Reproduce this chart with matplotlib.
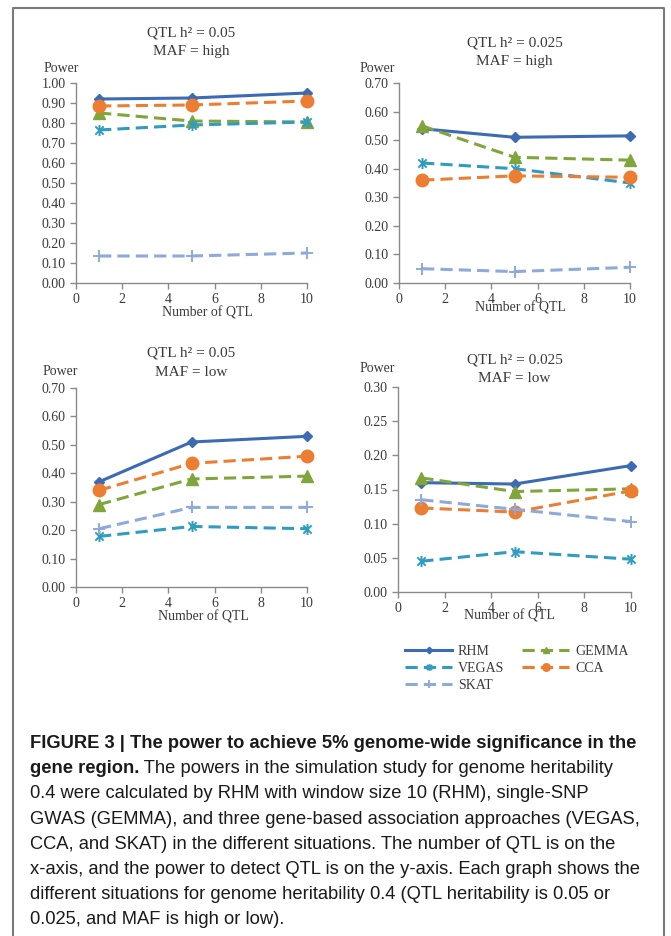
import matplotlib.pyplot as plt
from matplotlib.path import Path
from matplotlib.lines import Line2D

# number of QTL on the x-axis
n_qtl = [1, 5, 10]
methods = ['RHM', 'GEMMA', 'VEGAS', 'CCA', 'SKAT']

# power per method (rows in the order of `methods`)
power_05_high = [
    [0.92, 0.925, 0.95],
    [0.85, 0.81, 0.805],
    [0.765, 0.79, 0.805],
    [0.885, 0.89, 0.91],
    [0.135, 0.135, 0.15],
]
power_025_high = [
    [0.54, 0.51, 0.515],
    [0.55, 0.44, 0.43],
    [0.42, 0.40, 0.35],
    [0.36, 0.375, 0.37],
    [0.05, 0.04, 0.055],
]
power_05_low = [
    [0.37, 0.51, 0.53],
    [0.29, 0.38, 0.39],
    [0.178, 0.213, 0.205],
    [0.34, 0.435, 0.46],
    [0.205, 0.28, 0.28],
]
power_025_low = [
    [0.16, 0.158, 0.185],
    [0.167, 0.147, 0.151],
    [0.045, 0.059, 0.048],
    [0.123, 0.117, 0.148],
    [0.135, 0.121, 0.103],
]

titles = ['QTL h\u00b2 = 0.05\nMAF = high', 'QTL h\u00b2 = 0.025\nMAF = high',
          'QTL h\u00b2 = 0.05\nMAF = low', 'QTL h\u00b2 = 0.025\nMAF = low']
y_max = [1.0, 0.7, 0.7, 0.3]
y_step = [0.1, 0.1, 0.1, 0.05]

caption_bold = 'FIGURE 3 | The power to achieve 5% genome-wide significance in the'
caption_bold2 = 'gene region.'
caption_lines = [
    ' The powers in the simulation study for genome heritability',
    '0.4 were calculated by RHM with window size 10 (RHM), single-SNP',
    'GWAS (GEMMA), and three gene-based association approaches (VEGAS,',
    'CCA, and SKAT) in the different situations. The number of QTL is on the',
    'x-axis, and the power to detect QTL is on the y-axis. Each graph shows the',
    'different situations for genome heritability 0.4 (QTL heritability is 0.05 or',
    '0.025, and MAF is high or low).',
]

W, H = 671, 936
plt.rcParams['font.family'] = ['Liberation Serif', 'DejaVu Serif']
txt_col = '#3a3a3a'
axis_col = '#8a8a8a'

asterisk = Path([(0, -1), (0, 1), (-0.75, -0.75), (0.75, 0.75), (-0.75, 0.75), (0.75, -0.75)],
                [Path.MOVETO, Path.LINETO, Path.MOVETO, Path.LINETO, Path.MOVETO, Path.LINETO])

styles = {
    'RHM':   dict(color='#3c6bb3', ls='-', marker='D', ms=5.5),
    'GEMMA': dict(color='#80a53b', ls=(0, (4, 2)), marker='^', ms=8),
    'VEGAS': dict(color='#2f9cc0', ls=(0, (4, 2)), marker=asterisk, ms=8, mfc='none', mew=1.4),
    'CCA':   dict(color='#ec7d31', ls=(0, (4, 2)), marker='o', ms=9),
    'SKAT':  dict(color='#8ea9da', ls=(0, (4, 2)), marker='+', ms=9, mew=1.4),
}

fig = plt.figure(figsize=(W / 100, H / 100), dpi=100)


def px_box(l, r, top, bottom):
    return [l / W, 1 - bottom / H, (r - l) / W, (bottom - top) / H]


# layout in pixels: axes box, title centre y, "Power" label xy, x-label coords
layout = [
    (px_box(76, 307, 83, 283), 42.5, (61, 68), (0.567, -0.15)),
    (px_box(399, 630, 83, 283), 52.5, (377, 68), (0.524, -0.125)),
    (px_box(76, 307, 388, 587), 362.5, (60, 372), (0.55, -0.151)),
    (px_box(398, 631, 387, 592), 369.5, (377, 369), (0.48, -0.117)),
]
all_power = [power_05_high, power_025_high, power_05_low, power_025_low]

axes = []
for k in range(4):
    box, title_y, power_xy, xlab = layout[k]
    ax = fig.add_axes(box)
    axes.append(ax)
    for i, m in enumerate(methods):
        st = dict(styles[m])
        col = st.pop('color')
        st.setdefault('mfc', col)
        ax.plot(n_qtl, all_power[k][i], color=col, lw=2.2, mec=col, label=m,
                clip_on=False, **st)

    ax.set_xlim(0, 10)
    ax.set_ylim(0, y_max[k])
    ax.set_xticks(range(0, 11, 2))
    n_ticks = int(round(y_max[k] / y_step[k])) + 1
    ax.set_yticks([j * y_step[k] for j in range(n_ticks)])
    ax.set_yticklabels(['%.2f' % (j * y_step[k]) for j in range(n_ticks)])
    for s in ['top', 'right']:
        ax.spines[s].set_visible(False)
    for s in ['left', 'bottom']:
        ax.spines[s].set_color(axis_col)
        ax.spines[s].set_linewidth(1.0)
    ax.tick_params(colors=axis_col, labelcolor=txt_col, labelsize=10, length=4, width=1.0)

    ax.set_xlabel('Number of QTL', fontsize=10, color=txt_col)
    ax.xaxis.set_label_coords(xlab[0], xlab[1])
    ax.xaxis.label.set_va('center')

    cx = (box[0] + box[2] / 2)
    fig.text(cx, 1 - title_y / H, titles[k], ha='center', va='center',
             fontsize=11, color=txt_col, linespacing=1.6)
    fig.text(power_xy[0] / W, 1 - power_xy[1] / H, 'Power', ha='center', va='center',
             fontsize=10, color=txt_col)

# legend below the lower right panel, filled row by row
handles, labels = axes[3].get_legend_handles_labels()
order = [0, 2, 4, 1, 3]
fig.legend([handles[i] for i in order], [labels[i] for i in order], ncol=2,
           loc='upper left', bbox_to_anchor=(405 / W, 1 - 645 / H), frameon=False,
           fontsize=10, handlelength=3.4, handletextpad=0.4, columnspacing=1.3,
           labelspacing=0.3, borderpad=0, borderaxespad=0, markerscale=0.6,
           labelcolor=txt_col)

# caption
cap_font = ['Liberation Sans', 'DejaVu Sans']
cap_size = 13.2
x0 = 30 / W
base = 748
step = 25.2
fig.text(x0, 1 - base / H, caption_bold, fontsize=cap_size, fontweight='bold',
         family=cap_font, color='#1a1a1a', va='baseline')
b2 = fig.text(x0, 1 - (base + step) / H, caption_bold2, fontsize=cap_size, fontweight='bold',
              family=cap_font, color='#1a1a1a', va='baseline')
axes[3].annotate(caption_lines[0], xy=(1, 0), xycoords=b2, va='bottom', ha='left',
                 fontsize=cap_size, family=cap_font, color='#1a1a1a', annotation_clip=False)
for i, line in enumerate(caption_lines[1:]):
    fig.text(x0, 1 - (base + step * (i + 2)) / H, line, fontsize=cap_size,
             family=cap_font, color='#1a1a1a', va='baseline')

# frame round the figure (open at the bottom)
fig.add_artist(Line2D([13 / W, 13 / W, 664 / W, 664 / W], [-0.01, 1 - 8 / H, 1 - 8 / H, -0.01],
                      transform=fig.transFigure, color='#7a7a7a', lw=1.5))

fig.savefig('out.png', dpi=100)
